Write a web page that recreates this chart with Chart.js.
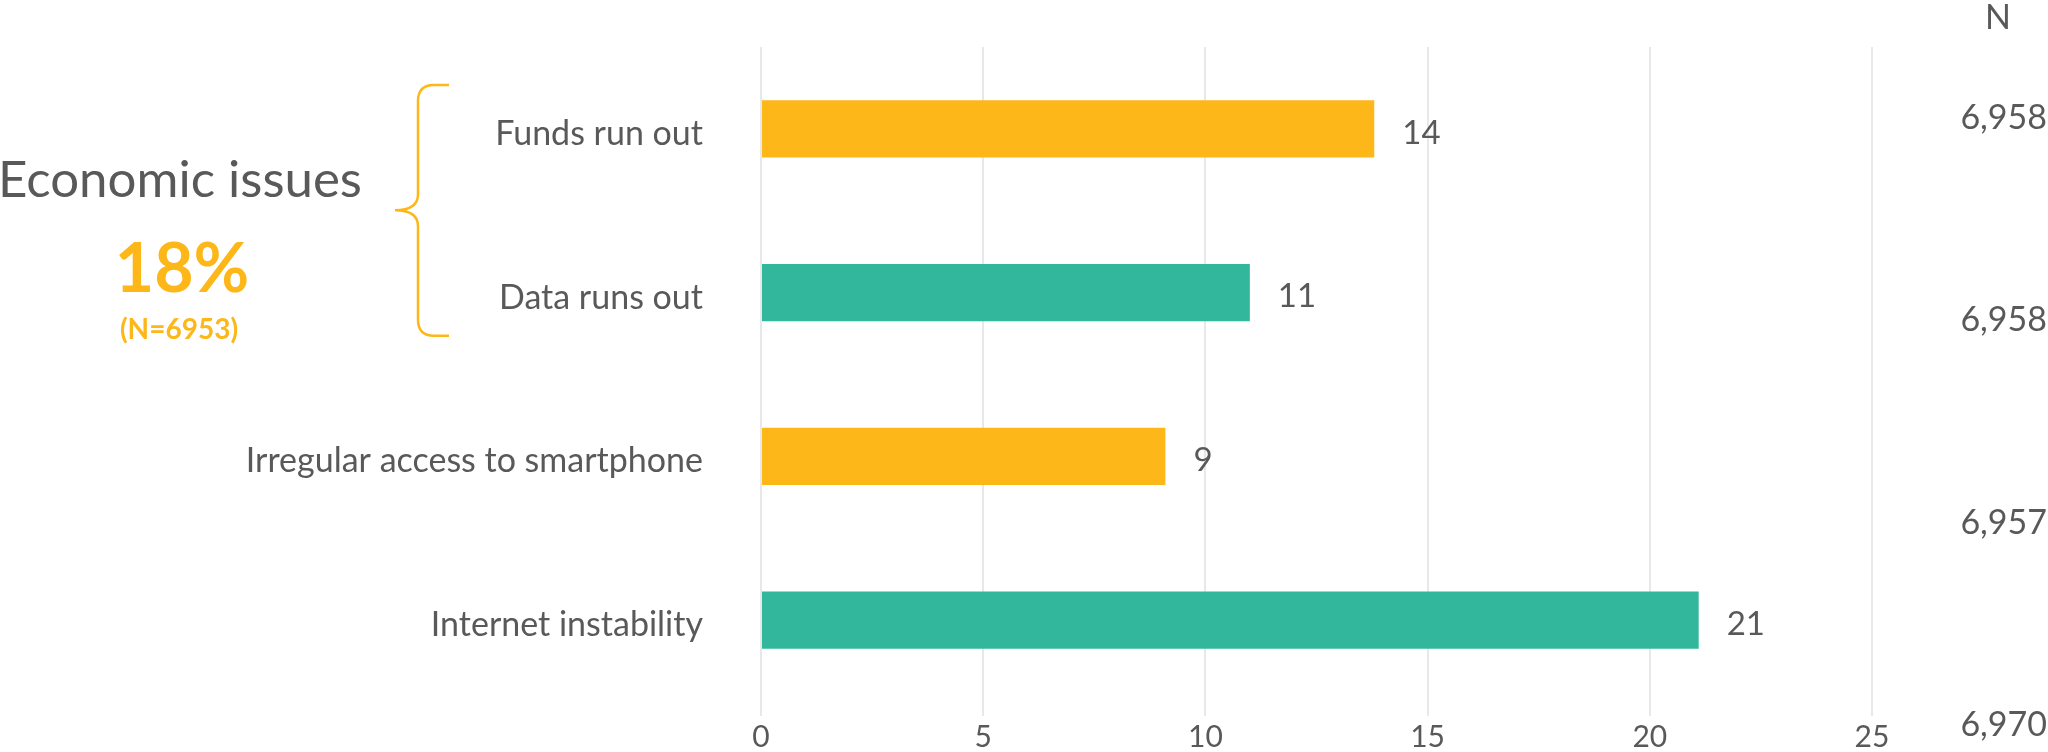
<!DOCTYPE html>
<html>
<head>
<meta charset="utf-8">
<script src="https://cdn.jsdelivr.net/npm/chart.js@4"></script>
<style>
  html, body { margin: 0; padding: 0; background: #fff; }
  #wrap { width: 2048px; height: 752px; }
</style>
</head>
<body>
<div id="wrap"><canvas id="chart" width="2048" height="752"></canvas></div>
<script>
const categories = ['Funds run out', 'Data runs out', 'Irregular access to smartphone', 'Internet instability'];
const values = [13.8, 11.0, 9.1, 21.1];
const valueLabels = ['14', '11', '9', '21'];
const nHeader = 'N';
const nValues = ['6,958', '6,958', '6,957', '6,970'];
const barColors = ['#FDB719', '#33B79C', '#FDB719', '#33B79C'];
const groupTitle = 'Economic issues';
const groupShare = '18%';
const groupN = '(N=6953)';

const ORANGE = '#FDB719';
const GREY = '#595959';
const FONT = 'Lato, "Open Sans", sans-serif';

// value labels at the end of each bar
const valueLabelPlugin = {
    id: 'valueLabels',
    afterDatasetsDraw(chart) {
        const ctx = chart.ctx;
        const meta = chart.getDatasetMeta(0);
        ctx.save();
        ctx.font = '33px ' + FONT;
        ctx.fillStyle = GREY;
        ctx.textAlign = 'left';
        ctx.textBaseline = 'middle';
        meta.data.forEach((bar, i) => {
            ctx.fillText(valueLabels[i], bar.x + 28, bar.y + 4);
        });
        ctx.restore();
    }
};

// N column on the right, brace and group note on the left
const sidePlugin = {
    id: 'sideNotes',
    afterDraw(chart) {
        const ctx = chart.ctx;
        const area = chart.chartArea;
        const yScale = chart.scales.y;
        ctx.save();

        // N column
        ctx.fillStyle = GREY;
        ctx.font = '34px ' + FONT;
        ctx.textBaseline = 'middle';
        ctx.textAlign = 'center';
        ctx.fillText(nHeader, 1998, 18);
        ctx.textAlign = 'right';
        const nTop = area.top + 71;
        const nStep = (area.bottom + 23 - nTop) / (nValues.length - 1);
        nValues.forEach((v, i) => {
            ctx.fillText(v, 2047, nTop + i * nStep);
        });

        // brace around the first two categories
        const y0 = yScale.getPixelForValue(0) - 44;
        const y1 = yScale.getPixelForValue(1) + 43;
        const ym = (y0 + y1) / 2;
        const xl = 418, xr = 449, xt = 395, r = 16;
        ctx.strokeStyle = ORANGE;
        ctx.lineWidth = 2.5;
        ctx.beginPath();
        ctx.moveTo(xr, y0);
        ctx.lineTo(xl + r, y0);
        ctx.quadraticCurveTo(xl, y0, xl, y0 + r);
        ctx.lineTo(xl, ym - r);
        ctx.quadraticCurveTo(xl, ym, xt, ym);
        ctx.quadraticCurveTo(xl, ym, xl, ym + r);
        ctx.lineTo(xl, y1 - r);
        ctx.quadraticCurveTo(xl, y1, xl + r, y1);
        ctx.lineTo(xr, y1);
        ctx.stroke();

        // group note
        ctx.textAlign = 'center';
        ctx.fillStyle = GREY;
        ctx.font = '51px ' + FONT;
        ctx.fillText(groupTitle, 180, ym - 30);
        ctx.fillStyle = ORANGE;
        ctx.font = 'bold 68px ' + FONT;
        ctx.fillText(groupShare, 182, ym + 60);
        ctx.font = 'bold 28px ' + FONT;
        ctx.fillText(groupN, 179, ym + 120);

        ctx.restore();
    }
};

new Chart(document.getElementById('chart'), {
    type: 'bar',
    data: {
        labels: categories,
        datasets: [{
            data: values,
            backgroundColor: barColors,
            borderWidth: 0,
            categoryPercentage: 1,
            barPercentage: 0.35
        }]
    },
    options: {
        indexAxis: 'y',
        responsive: false,
        animation: false,
        devicePixelRatio: 1,
        layout: { padding: { top: 47, right: 176, left: 0, bottom: 0 } },
        plugins: {
            legend: { display: false },
            tooltip: { enabled: false }
        },
        scales: {
            x: {
                min: 0,
                max: 25,
                ticks: {
                    stepSize: 5,
                    color: GREY,
                    font: { family: FONT, size: 30 },
                    padding: 3
                },
                grid: { color: '#E8E8E8', lineWidth: 2, tickLength: 14 },
                border: { display: false },
                afterFit(scale) {
                    scale.height = 50;
                    scale.paddingLeft = 0;
                    scale.paddingRight = 0;
                }
            },
            y: {
                ticks: {
                    color: GREY,
                    font: { family: FONT, size: 34 },
                    padding: 58,
                    labelOffset: 5
                },
                grid: { display: false, drawTicks: false },
                border: { display: false },
                afterFit(scale) {
                    scale.width = 761;
                    scale.paddingTop = 0;
                    scale.paddingBottom = 0;
                }
            }
        }
    },
    plugins: [valueLabelPlugin, sidePlugin]
});
</script>
</body>
</html>
